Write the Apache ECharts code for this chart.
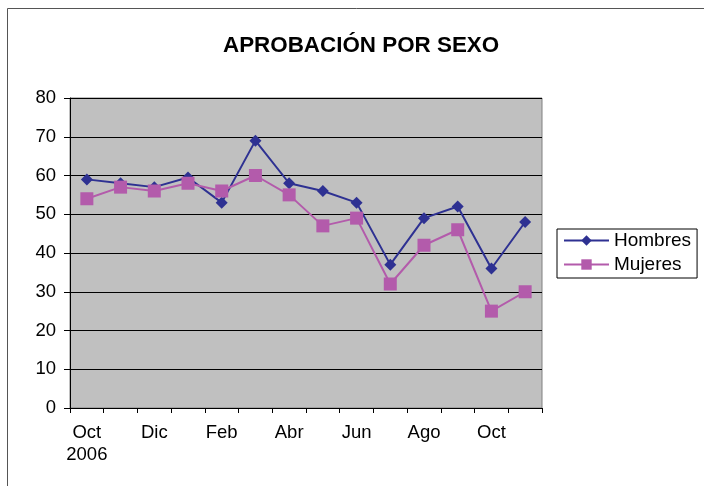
<!DOCTYPE html>
<html>
<head>
<meta charset="utf-8">
<script src="https://cdn.jsdelivr.net/npm/echarts@6/dist/echarts.min.js"></script>
<style>
  html, body { margin: 0; padding: 0; background: #fff; }
  #main { width: 704px; height: 486px; }
</style>
</head>
<body>
<div id="main"></div>
<script>
// datos
var meses = ['Oct\n2006', 'Nov', 'Dic', 'Ene', 'Feb', 'Mar', 'Abr', 'May', 'Jun', 'Jul', 'Ago', 'Sep', 'Oct', 'Nov'];
var hombres = [59, 58, 57, 59.5, 53, 69, 58, 56, 53, 37, 49, 52, 36, 48];
var mujeres = [54, 57, 56, 58, 56, 60, 55, 47, 49, 32, 42, 46, 25, 30];

var myChart = echarts.init(document.getElementById('main'));

var option = {
    backgroundColor: '#fff',
    textStyle: { fontFamily: 'Liberation Sans, Arial, sans-serif' },
    title: {
        text: 'APROBACIÓN POR SEXO',
        left: 218,
        top: 30,
        textStyle: { fontSize: 22.4, fontWeight: 'bold', color: '#000', fontFamily: 'Liberation Sans, Arial, sans-serif' }
    },
    // marco exterior
    graphic: [{
        type: 'rect',
        shape: { x: 7.5, y: 8.5, width: 720, height: 500 },
        style: { fill: 'none', stroke: '#555', lineWidth: 1 },
        z: -1
    }],
    legend: {
        orient: 'vertical',
        left: 557,
        top: 229,
        padding: [2, 6, 4, 6],
        itemGap: 5,
        itemWidth: 45,
        itemHeight: 13,
        borderColor: '#000',
        borderWidth: 1,
        textStyle: { fontSize: 19, color: '#000' },
        data: ['Hombres', 'Mujeres']
    },
    grid: {
        left: 70,
        right: 162,
        top: 98,
        bottom: 78,
        show: true,
        backgroundColor: '#C0C0C0',
        borderColor: '#808080',
        borderWidth: 1
    },
    xAxis: {
        type: 'category',
        data: meses,
        boundaryGap: true,
        axisLine: { lineStyle: { color: '#000', width: 1 } },
        axisTick: { show: true, length: 5, alignWithLabel: false, interval: 0, lineStyle: { color: '#000' } },
        axisLabel: { interval: 1, fontSize: 18.5, color: '#000', margin: 14, lineHeight: 22 },
        splitLine: { show: false }
    },
    yAxis: {
        type: 'value',
        min: 0,
        max: 80,
        interval: 10,
        axisLine: { show: true, lineStyle: { color: '#000', width: 1 } },
        axisTick: { show: true, length: 6, lineStyle: { color: '#000' } },
        axisLabel: { fontSize: 18.5, color: '#000', margin: 14 },
        splitLine: { show: true, lineStyle: { color: '#000', width: 1 } }
    },
    series: [
        {
            name: 'Hombres',
            type: 'line',
            data: hombres,
            symbol: 'diamond',
            symbolSize: 12,
            color: '#2E3192',
            lineStyle: { width: 2, color: '#2E3192' },
            itemStyle: { color: '#2E3192' }
        },
        {
            name: 'Mujeres',
            type: 'line',
            data: mujeres,
            symbol: 'rect',
            symbolSize: 13,
            color: '#B35BAB',
            lineStyle: { width: 2, color: '#B35BAB' },
            itemStyle: { color: '#B35BAB' }
        }
    ]
};

myChart.setOption(option);
</script>
</body>
</html>
